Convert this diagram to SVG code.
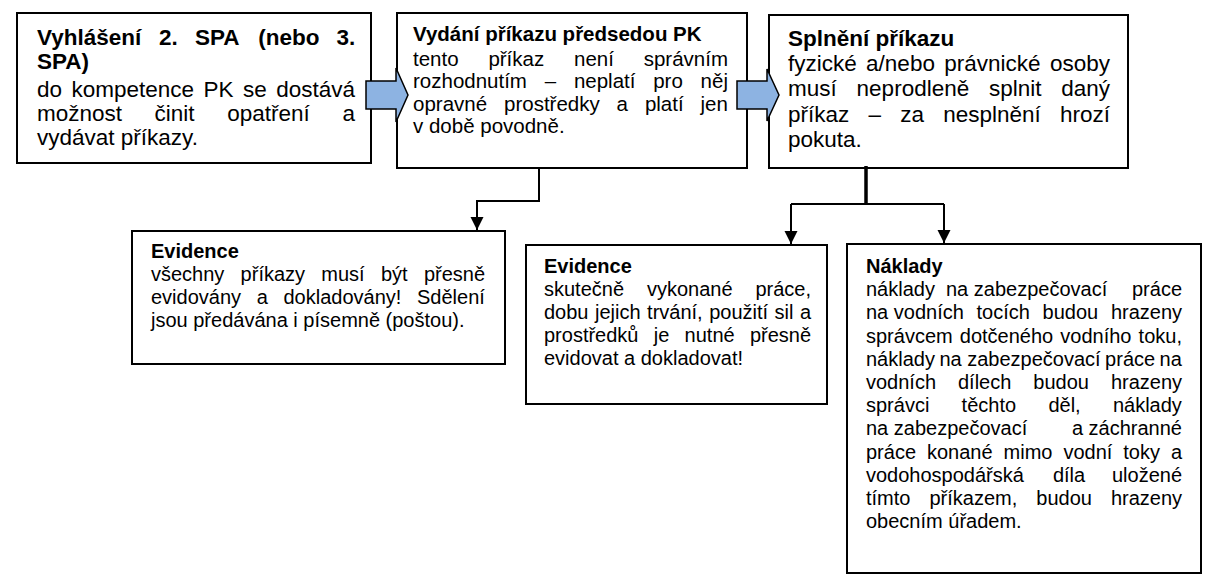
<svg xmlns="http://www.w3.org/2000/svg" width="1212" height="587" viewBox="0 0 1212 587">
<style>
.box{fill:#fff;stroke:#000;stroke-width:2}
.t{font-family:"Liberation Sans",Arial,sans-serif;fill:#000}
.b{font-weight:bold}
.f22{font-size:22.5px}
.f20{font-size:20px}
.f205{font-size:20.5px}
.conn{fill:none;stroke:#000;stroke-width:2}
.blk{fill:#8DB3E2;stroke:#000;stroke-width:1.5;stroke-linejoin:miter}
</style>
<defs>
<marker id="ah" markerUnits="userSpaceOnUse" markerWidth="14" markerHeight="14" refX="13" refY="6.5" orient="auto">
<path d="M0,0 L13,6.5 L0,13 z" fill="#000"/>
</marker>
</defs>
<rect width="1212" height="587" fill="#fff"/>

<g id="node-vyhlaseni">
<rect class="box" x="17" y="13" width="354" height="150"/>
<text class="t f22 b" y="45"><tspan x="37">Vyhlášení</tspan><tspan x="159.1">2.</tspan><tspan x="194.9">SPA</tspan><tspan x="258.2">(nebo</tspan><tspan x="336.4">3.</tspan></text>
<text class="t f22 b" x="37" y="68.5">SPA)</text>
<text class="t f22" y="97"><tspan x="37">do</tspan><tspan x="71.5">kompetence</tspan><tspan x="203.6">PK</tspan><tspan x="243.1">se</tspan><tspan x="276.3">dostává</tspan></text>
<text class="t f22" y="121"><tspan x="37">možnost</tspan><tspan x="154.6">činit</tspan><tspan x="227.2">opatření</tspan><tspan x="342.4">a</tspan></text>
<text class="t f22" x="37" y="145">vydávat příkazy.</text>
</g>

<g id="node-vydani">
<rect class="box" x="397" y="13" width="350" height="155"/>
<text class="t f205 b" x="413" y="41">Vydání příkazu předsedou PK</text>
<text class="t f205" y="66"><tspan x="413">tento</tspan><tspan x="488.4">příkaz</tspan><tspan x="574">není</tspan><tspan x="643.7">správním</tspan></text>
<text class="t f205" y="88.3"><tspan x="413">rozhodnutím</tspan><tspan x="544.7">–</tspan><tspan x="573.9">neplatí</tspan><tspan x="653.2">pro</tspan><tspan x="700.6">něj</tspan></text>
<text class="t f205" y="110.6"><tspan x="413">opravné</tspan><tspan x="504">prostředky</tspan><tspan x="616.6">a</tspan><tspan x="644.9">platí</tspan><tspan x="700.5">jen</tspan></text>
<text class="t f205" x="413" y="133">v době povodně.</text>
</g>

<g id="node-splneni">
<rect class="box" x="769" y="15" width="359" height="153"/>
<text class="t f22 b" x="788" y="45.5">Splnění příkazu</text>
<text class="t f22" y="71"><tspan x="788">fyzické</tspan><tspan x="866.1">a/nebo</tspan><tspan x="944.3">právnické</tspan><tspan x="1049.9">osoby</tspan></text>
<text class="t f22" y="96.3"><tspan x="788">musí</tspan><tspan x="856.6">neprodleně</tspan><tspan x="989">splnit</tspan><tspan x="1061.3">daný</tspan></text>
<text class="t f22" y="121.6"><tspan x="788">příkaz</tspan><tspan x="868.5">–</tspan><tspan x="900.2">za</tspan><tspan x="943.2">nesplnění</tspan><tspan x="1060">hrozí</tspan></text>
<text class="t f22" x="788" y="147">pokuta.</text>
</g>

<g id="node-evidence1">
<rect class="box" x="132" y="231" width="373" height="133"/>
<text class="t f20 b" x="151" y="258">Evidence</text>
<text class="t f20" y="281"><tspan x="151">všechny</tspan><tspan x="240.6">příkazy</tspan><tspan x="321.3">musí</tspan><tspan x="380.9">být</tspan><tspan x="423.9">přesně</tspan></text>
<text class="t f20" y="304"><tspan x="151">evidovány</tspan><tspan x="256.7">a</tspan><tspan x="283.5">dokladovány!</tspan><tspan x="417">Sdělení</tspan></text>
<text class="t f20" x="151" y="327">jsou předávána i písemně (poštou).</text>
</g>

<g id="node-evidence2">
<rect class="box" x="526" y="245" width="301" height="159"/>
<text class="t f20 b" x="544" y="272.5">Evidence</text>
<text class="t f20" y="295.7"><tspan x="544">skutečně</tspan><tspan x="646.9">vykonané</tspan><tspan x="755.4">práce,</tspan></text>
<text class="t f20" y="318.9"><tspan x="544">dobu</tspan><tspan x="595">jejich</tspan><tspan x="647.1">trvání,</tspan><tspan x="709.2">použití</tspan><tspan x="774.6">sil</tspan><tspan x="800">a</tspan></text>
<text class="t f20" y="342.1"><tspan x="544">prostředků</tspan><tspan x="653.8">je</tspan><tspan x="684.6">nutné</tspan><tspan x="749.9">přesně</tspan></text>
<text class="t f20" x="544" y="365.3">evidovat a dokladovat!</text>
</g>

<g id="node-naklady">
<rect class="box" x="847" y="244" width="354" height="329"/>
<text class="t f20 b" x="866" y="273">Náklady</text>
<text class="t f20" y="296.2"><tspan x="866">náklady</tspan><tspan x="946">na zabezpečovací</tspan><tspan x="1132">práce</tspan></text>
<text class="t f20" y="319.4"><tspan x="866">na vodních</tspan><tspan x="976.5">tocích</tspan><tspan x="1042.6">budou</tspan><tspan x="1110.9">hrazeny</tspan></text>
<text class="t f20" y="342.6"><tspan x="866">správcem</tspan><tspan x="959.8">dotčeného</tspan><tspan x="1060.3">vodního</tspan><tspan x="1138.6">toku,</tspan></text>
<text class="t f20" y="365.8"><tspan x="866">náklady</tspan><tspan x="939.4">na zabezpečovací</tspan><tspan x="1105.1">práce</tspan><tspan x="1159.6">na</tspan></text>
<text class="t f20" y="389"><tspan x="866">vodních</tspan><tspan x="958">dílech</tspan><tspan x="1033.3">budou</tspan><tspan x="1110.9">hrazeny</tspan></text>
<text class="t f20" y="412.2"><tspan x="866">správci</tspan><tspan x="961.6">těchto</tspan><tspan x="1048.4">děl,</tspan><tspan x="1112.9">náklady</tspan></text>
<text class="t f20" y="435.4"><tspan x="866">na zabezpečovací</tspan><tspan x="1071.9">a záchranné</tspan></text>
<text class="t f20" y="458.6"><tspan x="866">práce</tspan><tspan x="927">konané</tspan><tspan x="1003.6">mimo</tspan><tspan x="1063.4">vodní</tspan><tspan x="1123.3">toky</tspan><tspan x="1171">a</tspan></text>
<text class="t f20" y="481.8"><tspan x="866">vodohospodářská</tspan><tspan x="1052.9">díla</tspan><tspan x="1112">uložené</tspan></text>
<text class="t f20" y="505"><tspan x="866">tímto</tspan><tspan x="929.5">příkazem,</tspan><tspan x="1036.3">budou</tspan><tspan x="1110.9">hrazeny</tspan></text>
<text class="t f20" x="866" y="528.2">obecním úřadem.</text>
</g>

<g id="connectors">
<path class="blk" d="M366,81 H396 V68 L408,95 L396,122 V109 H366 Z"/>
<path class="blk" d="M737,81 H767 V69 L779,95 L767,121 V109 H737 Z"/>
<path class="conn" d="M539,169 V201 H477 V230" marker-end="url(#ah)"/>
<path class="conn" d="M866,166 V205" style="stroke-width:3.5"/>
<path class="conn" d="M791,204 H944"/>
<path class="conn" d="M791,204 V244" marker-end="url(#ah)"/>
<path class="conn" d="M944,204 V243" marker-end="url(#ah)"/>
</g>
</svg>
